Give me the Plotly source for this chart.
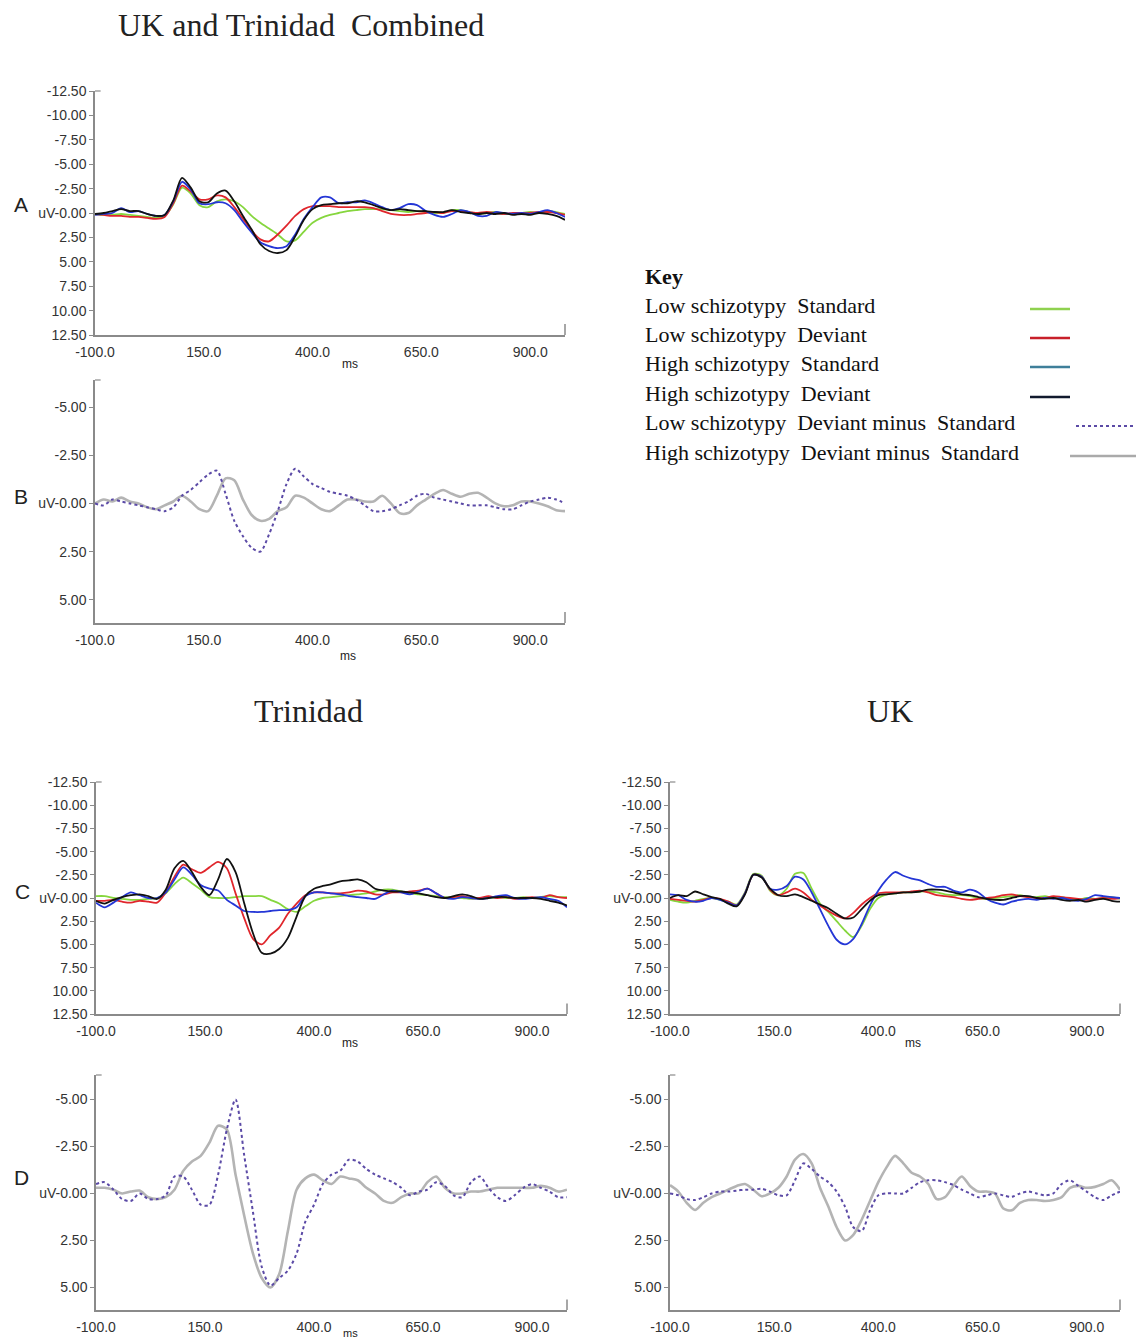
import plotly.graph_objects as go

W, H = 1144, 1341

# Sample times (ms) shared by every waveform
times = [-100, -80, -60, -40, -20, 0, 20, 40, 60, 80,
         100, 120, 140, 160, 180, 200, 220, 240, 260, 280,
         300, 320, 340, 360, 380, 400, 420, 440, 460, 480,
         500, 520, 540, 560, 580, 600, 620, 640, 660, 680,
         700, 720, 740, 760, 780, 800, 820, 840, 860, 880,
         900, 920, 940, 960, 980]

# ---- A: UK and Trinidad combined, grand averages (uV) ----
comb_low_std = [0.1, 0.2, 0.2, 0.1, 0.2, 0.3, 0.4, 0.5, 0.3, -0.9,
                -2.6, -2.0, -0.8, -0.6, -1.2, -1.4, -1.2, -0.6, 0.3, 1.0,
                1.6, 2.2, 2.9, 2.8, 1.9, 1.0, 0.5, 0.2, 0.0, -0.2,
                -0.3, -0.4, -0.4, -0.4, -0.3, -0.2, -0.1, -0.2, -0.1, 0.0,
                0.0, -0.3, -0.3, -0.1, 0.1, 0.0, -0.1, 0.1, 0.1, 0.0,
                -0.1, 0.0, -0.2, -0.1, 0.1]
comb_low_dev = [0.1, 0.2, 0.3, 0.3, 0.4, 0.4, 0.5, 0.6, 0.4, -1.0,
                -2.8, -2.2, -1.4, -1.4, -1.8, -1.6, -0.6, 0.6, 1.8, 2.7,
                2.9, 2.2, 1.3, 0.3, -0.4, -0.7, -0.7, -0.7, -0.6, -0.6,
                -0.6, -0.6, -0.5, -0.2, 0.1, 0.2, 0.2, 0.1, 0.0, -0.1,
                0.0, -0.2, -0.2, -0.1, 0.0, -0.1, 0.0, 0.1, 0.0, 0.0,
                0.0, -0.1, -0.1, 0.0, 0.2]
comb_high_std = [0.2, 0.1, 0.0, -0.5, -0.1, -0.2, 0.1, 0.3, 0.2, -1.2,
                 -3.2, -2.4, -1.0, -0.9, -1.1, -1.0, -0.3, 0.9, 2.0, 3.0,
                 3.4, 3.6, 3.4, 2.2, 0.6, -0.6, -1.6, -1.6, -1.0, -1.1,
                 -1.1, -1.3, -1.0, -0.6, -0.3, -0.5, -0.9, -0.8, -0.2, 0.2,
                 0.4, 0.1, -0.3, -0.1, 0.3, 0.3, -0.1, 0.0, 0.1, 0.0,
                 0.1, -0.1, -0.3, 0.0, 0.4]
comb_high_dev = [0.1, 0.0, -0.2, -0.4, -0.2, -0.2, 0.1, 0.3, 0.2, -1.3,
                 -3.6, -2.6, -1.2, -1.1, -2.0, -2.3, -1.2, 0.3, 1.7, 3.2,
                 3.9, 4.1, 3.8, 2.4, 0.7, -0.4, -0.8, -0.9, -1.0, -1.0,
                 -1.2, -1.1, -0.8, -0.5, -0.3, -0.4, -0.3, -0.2, -0.2, -0.1,
                 -0.1, -0.3, -0.1, 0.0, 0.1, 0.0, 0.1, 0.0, 0.2, 0.1,
                 0.2, 0.0, 0.1, 0.3, 0.7]

# ---- B: combined difference waves (deviant minus standard) ----
comb_low_diff = [0.0, 0.1, -0.2, -0.1, 0.0, 0.1, 0.2, 0.3, 0.4, 0.2,
                 -0.4, -0.7, -1.1, -1.5, -1.7, -0.5, 0.9, 1.7, 2.3, 2.5,
                 1.6, 0.4, -1.0, -1.8, -1.4, -1.0, -0.8, -0.6, -0.5, -0.4,
                 -0.2, 0.1, 0.4, 0.4, 0.3, 0.1, -0.1, -0.4, -0.5, -0.3,
                 -0.2, -0.1, 0.0, 0.1, 0.1, 0.1, 0.2, 0.3, 0.3, 0.1,
                 -0.1, -0.2, -0.3, -0.2, 0.0]
comb_high_diff = [0.0, -0.2, -0.1, -0.3, -0.1, 0.0, 0.2, 0.3, 0.1, -0.1,
                  -0.4, -0.1, 0.3, 0.4, -0.4, -1.3, -1.2, -0.2, 0.6, 0.9,
                  0.8, 0.4, 0.2, -0.4, -0.3, 0.0, 0.3, 0.4, 0.1, -0.2,
                  -0.2, -0.1, -0.1, -0.4, 0.0, 0.5, 0.5, 0.1, -0.2, -0.5,
                  -0.7, -0.5, -0.35, -0.5, -0.55, -0.3, 0.0, 0.15, 0.1, -0.1,
                  -0.1, 0.0, 0.15, 0.35, 0.4]

# ---- C: Trinidad grand averages ----
trin_low_std = [-0.2, -0.2, 0.0, 0.1, 0.2, 0.2, 0.1, 0.0, -0.5, -1.5,
                -2.2, -1.6, -0.9, -0.1, 0.0, 0.0, -0.1, -0.2, -0.2, -0.2,
                0.2, 0.6, 1.2, 1.5, 0.9, 0.3, 0.0, -0.1, -0.2, -0.3,
                -0.4, -0.5, -0.7, -0.9, -0.9, -0.7, -0.5, -0.4, -0.3, -0.2,
                -0.1, 0.0, 0.0, 0.1, 0.0, 0.0, -0.1, 0.0, 0.0, -0.1,
                0.0, -0.1, -0.2, -0.1, -0.1]
trin_low_dev = [0.3, 0.3, 0.2, 0.4, 0.5, 0.3, 0.4, 0.5, -0.6, -2.3,
                -3.6, -3.1, -2.7, -3.3, -3.9, -3.2, -0.5, 2.2, 4.4, 5.0,
                4.0, 3.2, 1.7, 0.6, -0.3, -0.6, -0.6, -0.5, -0.5, -0.6,
                -0.8, -0.7, -0.4, -0.4, -0.6, -0.6, -0.7, -0.8, -1.0, -0.5,
                0.0, -0.1, -0.2, 0.0, 0.0, -0.2, 0.0, -0.1, 0.1, 0.0,
                -0.1, 0.0, -0.3, -0.1, 0.0]
trin_high_std = [0.5, 1.0, 0.5, -0.1, -0.6, -0.3, 0.0, 0.0, -0.6, -2.0,
                 -3.3, -2.5, -1.4, -1.0, -0.8, 0.2, 0.8, 1.4, 1.5, 1.5,
                 1.4, 1.3, 1.3, 1.0, -0.2, -0.6, -0.6, -0.5, -0.4, -0.2,
                 -0.1, 0.0, 0.1, -0.4, -0.8, -0.6, -0.4, -0.7, -1.0, -0.5,
                 0.0, 0.1, -0.1, 0.0, 0.1, 0.0, -0.2, -0.3, 0.0, 0.1,
                 0.0, -0.1, 0.1, 0.3, 1.0]
trin_high_dev = [0.3, 0.6, 0.2, -0.1, -0.3, -0.4, -0.2, 0.1, -0.9, -3.2,
                 -4.0, -2.8, -1.2, -0.3, -2.0, -4.2, -2.8, 0.6, 3.8, 5.9,
                 6.0, 5.5, 4.3, 2.0, -0.2, -1.0, -1.3, -1.5, -1.8, -1.9,
                 -2.0, -1.7, -1.0, -0.8, -0.7, -0.7, -0.6, -0.5, -0.3, -0.1,
                 0.0, -0.2, -0.4, -0.2, 0.1, 0.0, -0.1, -0.1, 0.0, 0.0,
                 0.0, 0.1, 0.3, 0.5, 0.8]

# ---- C: UK grand averages ----
uk_low_std = [0.2, 0.4, 0.5, 0.3, 0.1, 0.0, 0.2, 0.4, 0.7, -0.6,
              -2.6, -2.4, -0.8, -0.3, -1.0, -2.6, -2.7, -1.0, 0.6, 1.5,
              2.5, 3.5, 4.2, 3.0, 1.2, 0.0, -0.4, -0.5, -0.6, -0.6,
              -0.7, -0.7, -0.6, -0.4, -0.3, -0.3, -0.2, 0.0, 0.1, 0.0,
              -0.1, -0.2, -0.3, -0.1, -0.1, -0.2, 0.0, -0.1, 0.1, 0.2,
              0.0, 0.1, 0.0, -0.1, 0.1]
uk_low_dev = [0.1, 0.2, 0.3, 0.4, 0.2, 0.0, 0.1, 0.4, 0.8, -0.5,
              -2.5, -2.3, -0.9, -0.3, -0.6, -1.0, -0.6, 0.2, 0.8, 1.4,
              1.9, 2.2, 1.6, 0.7, 0.0, -0.5, -0.6, -0.6, -0.6, -0.7,
              -0.8, -0.6, -0.3, -0.2, -0.1, 0.1, 0.2, 0.1, 0.0, -0.1,
              -0.3, -0.4, -0.2, -0.1, 0.0, 0.0, -0.2, -0.1, 0.0, 0.1,
              0.2, 0.1, 0.0, 0.1, 0.0]
uk_high_std = [-0.4, -0.3, 0.2, 0.4, 0.3, 0.0, 0.2, 0.5, 0.8, -0.5,
               -2.5, -2.3, -1.0, -0.9, -1.3, -2.3, -2.0, -0.6, 1.2, 3.0,
               4.5, 5.0, 4.4, 2.8, 0.8, -0.8, -2.0, -2.8, -2.4, -2.1,
               -1.9, -1.5, -1.2, -1.2, -0.8, -0.6, -0.9, -0.6, 0.1, 0.5,
               0.7, 0.4, 0.2, 0.1, 0.2, 0.0, 0.1, 0.0, 0.2, 0.3,
               0.1, -0.3, -0.2, -0.1, 0.0]
uk_high_dev = [0.0, -0.3, -0.2, -0.7, -0.4, -0.1, 0.1, 0.6, 0.9, -0.4,
               -2.5, -2.2, -1.0, -0.3, -0.2, -0.4, -0.1, 0.3, 0.7, 1.1,
               1.7, 2.2, 2.1, 1.2, 0.3, -0.3, -0.4, -0.5, -0.6, -0.6,
               -0.7, -0.9, -0.9, -0.8, -0.6, -0.4, -0.3, -0.1, 0.1, 0.2,
               0.2, 0.0, -0.2, -0.2, 0.0, 0.1, 0.0, 0.2, 0.3, 0.2,
               0.4, 0.2, 0.1, 0.3, 0.4]

# ---- D: difference waves by site ----
trin_low_diff = [-0.5, -0.6, -0.2, 0.3, 0.4, 0.0, 0.3, 0.3, 0.1, -0.9,
                 -0.9, -0.2, 0.6, 0.6, -1.0, -3.4, -5.0, -2.0, 1.0, 3.9,
                 4.9, 4.5, 4.1, 3.2, 1.5, 0.6, -0.5, -1.0, -1.2, -1.8,
                 -1.7, -1.3, -1.0, -0.8, -0.6, -0.3, 0.1, -0.1, -0.2, -0.6,
                 -0.4, 0.1, 0.2, -0.6, -0.9, -0.3, 0.2, 0.4, 0.1, -0.3,
                 -0.5, -0.3, -0.1, 0.2, 0.2]
trin_high_diff = [-0.3, -0.3, -0.2, 0.0, -0.1, -0.15, 0.2, 0.3, 0.2, -0.2,
                  -1.2, -1.7, -2.0, -2.7, -3.6, -3.4, -1.0, 1.2, 3.2, 4.5,
                  5.0, 4.3, 2.0, -0.2, -0.8, -1.0, -0.7, -0.5, -0.9, -0.8,
                  -0.7, -0.3, 0.0, 0.4, 0.5, 0.2, 0.0, 0.0, -0.6, -0.9,
                  -0.3, 0.0, 0.0, -0.1, -0.1, -0.2, -0.3, -0.3, -0.3, -0.3,
                  -0.3, -0.4, -0.3, -0.1, -0.2]
uk_low_diff = [0.0, 0.1, 0.3, 0.35, 0.2, 0.0, -0.1, -0.1, -0.15, -0.2,
               -0.2, -0.25, -0.1, 0.1, 0.1, -0.7, -1.6, -1.3, -0.9, -0.6,
               -0.1, 0.7, 1.8, 2.0, 0.9, 0.1, 0.0, 0.0, 0.0, -0.3,
               -0.6, -0.7, -0.7, -0.6, -0.45, -0.2, 0.0, 0.2, 0.1, 0.0,
               0.1, 0.18, 0.0, -0.1, 0.0, 0.1, 0.0, -0.5, -0.7, -0.4,
               -0.1, 0.2, 0.35, 0.1, -0.1]
uk_high_diff = [-0.44, -0.1, 0.5, 0.88, 0.5, 0.2, 0.0, -0.2, -0.4, -0.5,
                -0.2, 0.15, 0.0, -0.3, -0.9, -1.8, -2.1, -1.6, -0.3, 0.7,
                1.8, 2.5, 2.2, 1.4, 0.4, -0.6, -1.4, -2.0, -1.6, -1.1,
                -0.9, -0.5, 0.3, 0.2, -0.4, -0.9, -0.4, -0.1, -0.1, 0.0,
                0.8, 0.9, 0.5, 0.35, 0.35, 0.4, 0.35, 0.2, -0.3, -0.4,
                -0.3, -0.35, -0.5, -0.7, -0.2]

x_ticks = [-100, 150, 400, 650, 900]
x_tick_text = ["-100.0", "150.0", "400.0", "650.0", "900.0"]
wide_ticks = [-12.5, -10, -7.5, -5, -2.5, 0, 2.5, 5, 7.5, 10, 12.5]
wide_tick_text = ["-12.50", "-10.00", "-7.50", "-5.00", "-2.50", "uV-0.00",
                  "2.50", "5.00", "7.50", "10.00", "12.50"]
diff_ticks = [-5, -2.5, 0, 2.5, 5]
diff_tick_text = ["-5.00", "-2.50", "uV-0.00", "2.50", "5.00"]

C_LOW_STD = "#86d63e"
C_LOW_DEV = "#e0262c"
C_HIGH_STD = "#2436d6"
C_HIGH_DEV = "#111111"
C_LOW_DIFF = "#5b4aa6"
C_HIGH_DIFF = "#b4b4b4"

AXIS_COLOR = "#8a8a8a"
SANS = "Liberation Sans, Arial, sans-serif"
SERIF = "Liberation Serif, Times New Roman, serif"
TICK_FONT = dict(family=SANS, size=14, color="#333333")


def px_x(x):
    return x / W


def px_y(y):
    return 1 - y / H


# panel id -> (x left, x right, y top, y bottom) in pixels, y range, ticks
panels = {
    1: (95, 565, 91, 335, [12.5, -12.5], wide_ticks, wide_tick_text),
    2: (95, 565, 380, 623, [6.2, -6.4], diff_ticks, diff_tick_text),
    3: (96, 567, 782, 1014, [12.5, -12.5], wide_ticks, wide_tick_text),
    4: (670, 1120, 782, 1014, [12.5, -12.5], wide_ticks, wide_tick_text),
    5: (96, 567, 1075, 1310, [6.2, -6.3], diff_ticks, diff_tick_text),
    6: (670, 1120, 1075, 1310, [6.2, -6.3], diff_ticks, diff_tick_text),
}

fig = go.Figure()


def add_wave(panel, values, color, dash="solid", width=1.8):
    suffix = "" if panel == 1 else str(panel)
    fig.add_trace(go.Scatter(
        x=times, y=values, mode="lines",
        line=dict(color=color, width=width, dash=dash, shape="spline", smoothing=0.8),
        xaxis="x" + suffix, yaxis="y" + suffix, showlegend=False,
        hoverinfo="skip"))


for panel, waves in [(1, (comb_low_std, comb_low_dev, comb_high_std, comb_high_dev)),
                     (3, (trin_low_std, trin_low_dev, trin_high_std, trin_high_dev)),
                     (4, (uk_low_std, uk_low_dev, uk_high_std, uk_high_dev))]:
    for vals, col in zip(waves, (C_LOW_STD, C_LOW_DEV, C_HIGH_STD, C_HIGH_DEV)):
        add_wave(panel, vals, col)

for panel, (low, high) in [(2, (comb_low_diff, comb_high_diff)),
                           (5, (trin_low_diff, trin_high_diff)),
                           (6, (uk_low_diff, uk_high_diff))]:
    add_wave(panel, high, C_HIGH_DIFF, width=2.6)
    add_wave(panel, low, C_LOW_DIFF, dash="dot", width=2.0)

layout = dict(
    width=W, height=H, margin=dict(l=0, r=0, t=0, b=0),
    paper_bgcolor="white", plot_bgcolor="white",
)

shapes = []
for p, (xl, xr, yt, yb, yr, yt_vals, yt_text) in panels.items():
    suffix = "" if p == 1 else str(p)
    layout["xaxis" + suffix] = dict(
        domain=[px_x(xl), px_x(xr)], range=[-100, 980], anchor="y" + suffix,
        showline=True, linecolor=AXIS_COLOR, linewidth=1.5, showgrid=False,
        zeroline=False, tickvals=x_ticks, ticktext=x_tick_text, ticks="",
        tickfont=TICK_FONT, ticklabelstandoff=3, automargin=False)
    layout["yaxis" + suffix] = dict(
        domain=[px_y(yb), px_y(yt)], range=yr, anchor="x" + suffix,
        showline=True, linecolor=AXIS_COLOR, linewidth=1.5, showgrid=False,
        zeroline=False, tickvals=yt_vals, ticktext=yt_text, ticks="outside",
        ticklen=4, tickcolor=AXIS_COLOR, tickfont=TICK_FONT, automargin=False)
    # small end tick on the right of the time axis
    shapes.append(dict(type="line", xref="x" + suffix + " domain", yref="y" + suffix + " domain",
                       x0=1, x1=1, y0=0, y1=0.045, line=dict(color=AXIS_COLOR, width=1.5)))
    # small top cap on the amplitude axis
    shapes.append(dict(type="line", xref="x" + suffix + " domain", yref="y" + suffix + " domain",
                       x0=0, x1=0.012, y0=1, y1=1, line=dict(color=AXIS_COLOR, width=1.2)))

annotations = []


def text(x, y, s, size, family, xanchor="center", bold=False, color="#222222"):
    annotations.append(dict(
        x=px_x(x), y=px_y(y), xref="paper", yref="paper", text=("<b>%s</b>" % s) if bold else s,
        showarrow=False, xanchor=xanchor, yanchor="middle", borderpad=0,
        font=dict(size=size, family=family, color=color)))


# headings
text(301, 25, "UK and Trinidad\u00a0 Combined", 32, SERIF)
text(308, 711, "Trinidad", 32, SERIF)
text(890, 711, "UK", 32, SERIF)

# panel letters
text(21, 205, "A", 21, SANS)
text(21, 496, "B", 21, SANS)
text(22, 891, "C", 21, SANS)
text(21, 1177, "D", 21, SANS)

# time-axis units
for x, y, s in [(350, 364, 12), (348, 656, 12), (350, 1043, 12), (913, 1043, 12), (350, 1333, 11)]:
    text(x, y, "ms", s, SANS)

# key
text(644, 277, "Key", 22, SERIF, xanchor="left", bold=True, color="#111111")
key_rows = [
    ("Low schizotypy\u00a0 Standard", 305, "#8fd14f", "solid", 1030, 1070, 2.5),
    ("Low schizotypy\u00a0 Deviant", 334, "#c8202a", "solid", 1030, 1070, 2.5),
    ("High schizotypy\u00a0 Standard", 363, "#3f7f9a", "solid", 1030, 1070, 2.5),
    ("High schizotypy\u00a0 Deviant", 393, "#111a2e", "solid", 1030, 1070, 2.5),
    ("Low schizotypy\u00a0 Deviant minus\u00a0 Standard", 422, C_LOW_DIFF, "dot", 1076, 1136, 2.0),
    ("High schizotypy\u00a0 Deviant minus\u00a0 Standard", 452, "#aaaaaa", "solid", 1070, 1136, 2.5),
]
for label, y, col, dash, x0, x1, w in key_rows:
    text(644, y, label, 22, SERIF, xanchor="left", color="#111111")
    shapes.append(dict(type="line", xref="paper", yref="paper",
                       x0=px_x(x0), x1=px_x(x1), y0=px_y(y + 4), y1=px_y(y + 4),
                       line=dict(color=col, width=w, dash=dash)))

layout["shapes"] = shapes
layout["annotations"] = annotations
fig.update_layout(**layout)

fig.write_html("out.html")
